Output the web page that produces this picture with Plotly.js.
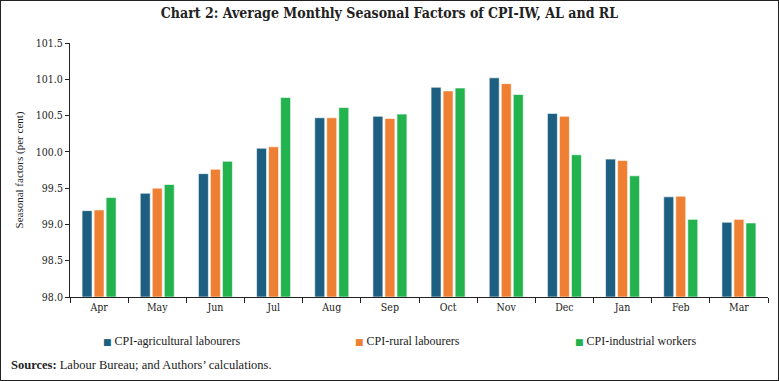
<!DOCTYPE html>
<html><head><meta charset="utf-8">
<script src="https://cdn.plot.ly/plotly-3.0.1.min.js"></script>
<style>html,body{margin:0;padding:0;background:#fff;}#wrap{position:relative;width:779px;height:381px;}#frame{position:absolute;left:0;top:0;width:777px;height:379px;border:1px solid #222;pointer-events:none;}</style>
</head><body>
<div id="wrap"><div id="chart" style="width:779px;height:381px;"></div><div id="frame"></div></div>
<script>
const months = ["Apr","May","Jun","Jul","Aug","Sep","Oct","Nov","Dec","Jan","Feb","Mar"];
const cpiAL = [99.19, 99.43, 99.70, 100.05, 100.47, 100.49, 100.89, 101.02, 100.53, 99.90, 99.38, 99.03];
const cpiRL = [99.20, 99.50, 99.76, 100.07, 100.47, 100.46, 100.84, 100.94, 100.49, 99.88, 99.39, 99.07];
const cpiIW = [99.37, 99.55, 99.87, 100.75, 100.61, 100.52, 100.88, 100.79, 99.96, 99.67, 99.07, 99.02];
const seriesNames = ["CPI-agricultural labourers","CPI-rural labourers","CPI-industrial workers"];
const colors = ["#1c5f80","#ee7f33","#22b24e"];
const font = "Liberation Serif, DejaVu Serif, serif";
const tfont = "DejaVu Serif Condensed, DejaVu Serif, serif";
const baseVal = 98;

const traces = [cpiAL, cpiRL, cpiIW].map((v,i)=>({
  type:'bar', x:months, base:baseVal, y:v.map(d=>d-baseVal), name:seriesNames[i],
  marker:{color:colors[i], line:{color:'#ffffff', width:0.6}},
  hoverinfo:'skip', showlegend:false
}));

// legend entries (x positions in paper units)
const legX = [0.044, 0.405, 0.721];
const legAnn = seriesNames.map((n,i)=>({
  xref:'paper', yref:'paper', x:legX[i], y:-0.175, xanchor:'left', yanchor:'middle', showarrow:false,
  text:'<span style="color:'+colors[i]+';font-family:DejaVu Sans;font-size:9px">\u25A0</span> '+n,
  font:{family:font, size:12, color:'#222'}
}));

const layout = {
  width:779, height:381,
  margin:{l:70, r:11, t:43, b:84},
  paper_bgcolor:'#fff', plot_bgcolor:'#fff',
  font:{family:font, size:10, color:'#222'},
  title:{text:'<b>Chart 2: Average Monthly Seasonal Factors of CPI-IW, AL and RL</b>', font:{family:"DejaVu Serif Condensed, DejaVu Serif, serif", size:14, color:'#222'}, x:0.5, xanchor:'center', y:0.965, yanchor:'middle'},
  barmode:'group', bargap:0.38, bargroupgap:0.17,
  xaxis:{showline:true, linecolor:'#222', linewidth:1, ticks:'outside', tickson:'boundaries', ticklen:5, tickcolor:'#222', showgrid:false, tickfont:{family:tfont, size:10.5, color:'#222'}},
  yaxis:{range:[98,101.5], dtick:0.5, tick0:98, tickformat:'.1f', showline:true, linecolor:'#222', linewidth:1, ticks:'outside', ticklen:4, tickcolor:'#222', showgrid:false, zeroline:false,
    tickfont:{family:tfont, size:10.5, color:'#222'},
    title:{text:'Seasonal factors (per cent)', font:{family:font, size:11, color:'#222'}, standoff:10}},
  showlegend:false,
  annotations:legAnn.concat([{xref:'paper', yref:'paper', x:-0.087, y:-0.268, xanchor:'left', yanchor:'middle', showarrow:false, text:'<b>Sources:</b> Labour Bureau; and Authors\u2019 calculations.', font:{family:font, size:12.5, color:'#222'}}])
};
Plotly.newPlot('chart', traces, layout, {displayModeBar:false, staticPlot:true});
</script>
</body></html>
